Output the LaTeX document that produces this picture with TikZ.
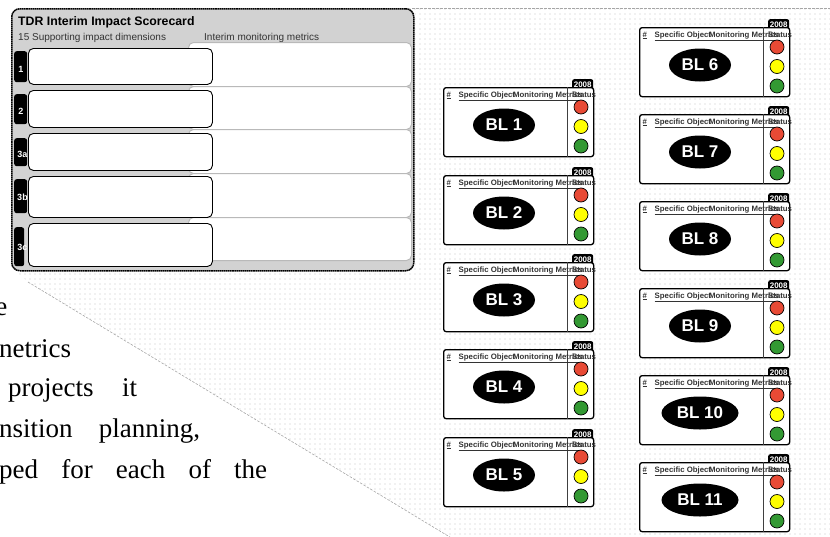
\documentclass[tikz,border=0pt]{standalone}
\usepackage{fontspec}
\setmainfont{Liberation Serif}
\setsansfont{Liberation Sans}
\usetikzlibrary{shapes.geometric,patterns.meta}

\definecolor{panelgray}{HTML}{D2D2D2}
\definecolor{lred}{HTML}{E84A35}
\definecolor{lyellow}{HTML}{FFFF00}
\definecolor{lgreen}{HTML}{339933}
\definecolor{inkgray}{HTML}{333333}
\definecolor{dotgray}{HTML}{C4C4C4}

% small dot grid used for the field behind the cards
\tikzdeclarepattern{
  name=fieldgrid,
  type=uncolored,
  bounding box={(0pt,0pt) and (4.5pt,4.5pt)},
  tile size={(4.5pt,4.5pt)},
  code={\fill (2.25pt,2.25pt) circle (0.65pt);}
}

\tikzset{
  panel/.style={draw=black, line width=1.5pt, dash pattern=on 1.6pt off 0.5pt,
    fill=panelgray, rounded corners=8pt, inner sep=0pt, anchor=north west},
  metricbox/.style={draw=gray!55, line width=1pt, fill=white, rounded corners=5pt,
    inner sep=0pt, anchor=north west, minimum width=223pt},
  dimbox/.style={draw=black, line width=0.9pt, fill=white, rounded corners=5pt,
    inner sep=0pt, anchor=north west, minimum width=184pt},
  dimtab/.style={fill=black, rounded corners=2.5pt, inner sep=0pt, anchor=north west},
  tablabel/.style={text=white, font=\sffamily\bfseries\fontsize{9}{9}\selectfont, inner sep=0pt},
  fieldedge/.style={draw=gray!70, line width=0.6pt, dash pattern=on 2.5pt off 1.5pt},
  cardframe/.style={draw=black, line width=1.3pt, fill=white, rounded corners=2.5pt,
    inner sep=0pt, anchor=north west, minimum width=150pt, minimum height=69pt},
  yeartab/.style={fill=black, rounded corners=2pt, inner sep=0pt, anchor=north west,
    minimum width=21pt, minimum height=12pt, text=white,
    font=\sffamily\bfseries\fontsize{8}{8}\selectfont},
  cardhead/.style={anchor=base west, inner sep=0pt, text=inkgray,
    font=\sffamily\bfseries\fontsize{7.8}{7.8}\selectfont},
  statusrule/.style={draw=black!75, line width=0.9pt},
  blmark/.style={ellipse, fill=black, text=white, inner sep=0pt, minimum height=33pt,
    font=\sffamily\bfseries\fontsize{17}{17}\selectfont},
  lamp/.style={circle, draw=black, line width=0.7pt, minimum size=14pt, inner sep=0pt},
  bodytext/.style={inner sep=0pt, font=\rmfamily\fontsize{27}{27}\selectfont}
}

% #1 name, #2 left x, #3 top y, #4 label, #5 width of the label ellipse
\newcommand\blcard[5]{%
  \node[yeartab] (#1tab) at ({#2+129},{#3-8}) {2008};
  \node[cardframe] (#1) at (#2,#3) {};
  \draw[statusrule] ([xshift=124pt]#1.north west) -- ([xshift=124pt]#1.south west);
  \node[cardhead] (#1num) at ({#2+3.5},{#3+10}) {\underline{\#}};
  \node[cardhead] (#1obj) at ({#2+15.5},{#3+10}) {\underline{Specific Object}};
  \node[cardhead] (#1met) at ({#2+70},{#3+10}) {\underline{Monitoring Metrics}};
  \node[cardhead] (#1stat) at ({#2+129},{#3+10}) {Status};
  \node[blmark, minimum width=#5] (#1mark) at ({#2+61},{#3+38}) {#4};
  \node[lamp, fill=lred] (#1red) at ({#2+138},{#3+20}) {};
  \node[lamp, fill=lyellow] (#1yel) at ({#2+138},{#3+39.5}) {};
  \node[lamp, fill=lgreen] (#1grn) at ({#2+138},{#3+59}) {};
}

\begin{document}
\begin{tikzpicture}[x=1pt, y=-1pt]
\useasboundingbox (0,0) rectangle (830,536);

% dotted field behind the scorecard and the cards
\coordinate (fieldtl) at (412,8);
\coordinate (fieldtr) at (840,8);
\coordinate (fieldbr) at (840,545);
\coordinate (fieldbl) at (463,545);
\coordinate (fieldtip) at (28,282);
\fill[pattern={fieldgrid}, pattern color=dotgray]
  (fieldtl) -- (fieldtr) -- (fieldbr) -- (fieldbl) -- (fieldtip) -- (14,270) -- (14,10) -- cycle;
\draw[fieldedge] (fieldtl) -- (fieldtr);
\draw[fieldedge] (fieldtip) -- (fieldbl);

% scorecard panel
\node[panel, minimum width=402pt, minimum height=262pt] (scorecard) at (11,8) {};
\node[anchor=base west, inner sep=0pt, font=\sffamily\bfseries\fontsize{12.3}{12.3}\selectfont]
  (sctitle) at (18,25) {TDR Interim Impact Scorecard};
\node[anchor=base west, inner sep=0pt, text=inkgray, font=\sffamily\fontsize{10}{10}\selectfont]
  (dimhead) at (18,40) {15 Supporting impact dimensions};
\node[anchor=base west, inner sep=0pt, text=inkgray, font=\sffamily\fontsize{10}{10}\selectfont]
  (methead) at (204,40) {Interim monitoring metrics};

% metric rows
\node[metricbox, minimum height=44pt] (m1) at (188,42) {};
\node[metricbox, minimum height=43pt] (m2) at (188,86) {};
\node[metricbox, minimum height=44pt] (m3) at (188,129) {};
\node[metricbox, minimum height=44pt] (m4) at (188,173) {};
\node[metricbox, minimum height=43pt] (m5) at (188,217) {};

% dimension tabs
\node[dimtab, minimum width=13pt, minimum height=31pt] (t1) at (14,51) {};
\node[dimtab, minimum width=13pt, minimum height=30pt] (t2) at (14,94) {};
\node[dimtab, minimum width=13pt, minimum height=28pt] (t3) at (14,138) {};
\node[dimtab, minimum width=13pt, minimum height=34pt] (t4) at (14,179) {};
\node[dimtab, minimum width=10pt, minimum height=39pt] (t5) at (14,227) {};
\node[tablabel] (l1) at (21,69) {1};
\node[tablabel] (l2) at (21,111) {2};
\node[tablabel] (l3) at (22.5,154) {3a};
\node[tablabel] (l4) at (22.5,197) {3b};
\node[tablabel] (l5) at (22.5,247) {3c};

% dimension boxes
\node[dimbox, minimum height=36pt] (d1) at (28,48) {};
\node[dimbox, minimum height=37pt] (d2) at (28,90) {};
\node[dimbox, minimum height=37pt] (d3) at (28,133) {};
\node[dimbox, minimum height=41pt] (d4) at (28,176) {};
\node[dimbox, minimum height=43pt] (d5) at (28,223) {};

% baseline cards
\blcard{bla}{443}{87}{BL 1}{62pt}
\blcard{blb}{443}{175}{BL 2}{62pt}
\blcard{blc}{443}{262}{BL 3}{62pt}
\blcard{bld}{443}{349}{BL 4}{62pt}
\blcard{ble}{443}{437}{BL 5}{62pt}
\blcard{blf}{639}{27}{BL 6}{62pt}
\blcard{blg}{639}{114}{BL 7}{62pt}
\blcard{blh}{639}{201}{BL 8}{62pt}
\blcard{bli}{639}{288}{BL 9}{62pt}
\blcard{blj}{639}{375}{BL 10}{77pt}
\blcard{blk}{639}{462}{BL 11}{77pt}

% body text running along the left edge
\node[bodytext, anchor=base east] (txa) at (7.5,315) {e};
\node[bodytext, anchor=base west] (txb) at (-1,357) {netrics};
\node[bodytext, anchor=base west] (txc) at (8,396) {\makebox[129pt][s]{projects it}};
\node[bodytext, anchor=base west] (txd) at (-1,437) {\makebox[201pt][s]{nsition planning,}};
\node[bodytext, anchor=base west] (txe) at (-1,478) {\makebox[268pt][s]{ped for each of the}};
\end{tikzpicture}
\end{document}
